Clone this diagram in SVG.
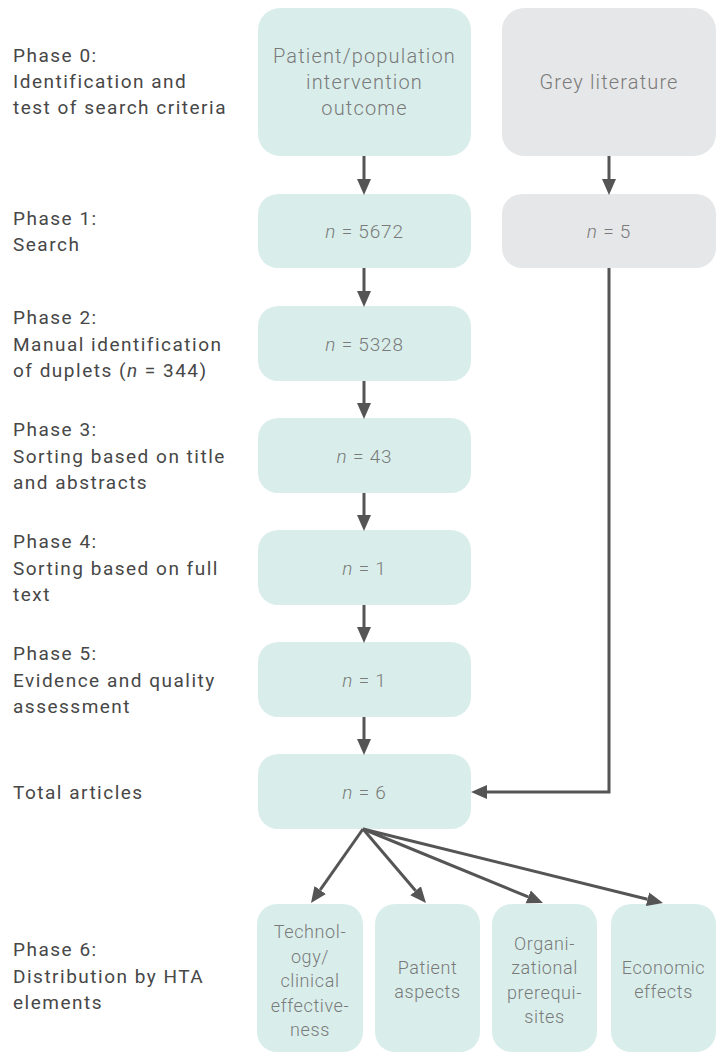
<svg xmlns="http://www.w3.org/2000/svg" width="723" height="1052" viewBox="0 0 723 1052">
<defs>
<style>
.lbl{font-family:Roboto,"Liberation Sans",sans-serif;font-size:19px;fill:#474747;letter-spacing:1.5px}
.bt{font-family:Roboto,"Liberation Sans",sans-serif;font-weight:300;font-size:18px;fill:#7a7a7a;text-anchor:middle;letter-spacing:0.6px}
.bt0{font-family:Roboto,"Liberation Sans",sans-serif;font-weight:300;font-size:20px;fill:#7a7a7a;text-anchor:middle;letter-spacing:1.15px}
.bn{font-family:Roboto,"Liberation Sans",sans-serif;font-weight:300;font-size:19px;fill:#7a7a7a;text-anchor:middle;letter-spacing:0.8px}
.teal{fill:#d9eeeb}
.grey{fill:#e6e7e8}
.con{stroke:#555;stroke-width:3;fill:none}
</style>
<marker id="ah" markerUnits="userSpaceOnUse" markerWidth="16" markerHeight="16" refX="0" refY="7" orient="auto" viewBox="0 0 16 14">
<path d="M0,0 L16,7 L0,14 z" fill="#555"/>
</marker>
</defs>
<g id="labels">
<text class="lbl" x="13" y="62">Phase 0:</text>
<text class="lbl" x="13" y="88">Identification and</text>
<text class="lbl" x="13" y="114">test of search criteria</text>
<text class="lbl" x="13" y="225">Phase 1:</text>
<text class="lbl" x="13" y="251">Search</text>
<text class="lbl" x="13" y="324">Phase 2:</text>
<text class="lbl" x="13" y="351">Manual identification</text>
<text class="lbl" x="13" y="377">of duplets (<tspan font-style="italic">n</tspan> = 344)</text>
<text class="lbl" x="13" y="436">Phase 3:</text>
<text class="lbl" x="13" y="463">Sorting based on title</text>
<text class="lbl" x="13" y="489">and abstracts</text>
<text class="lbl" x="13" y="548">Phase 4:</text>
<text class="lbl" x="13" y="575">Sorting based on full</text>
<text class="lbl" x="13" y="601">text</text>
<text class="lbl" x="13" y="660">Phase 5:</text>
<text class="lbl" x="13" y="687">Evidence and quality</text>
<text class="lbl" x="13" y="713">assessment</text>
<text class="lbl" x="13" y="799">Total articles</text>
<text class="lbl" x="13" y="956">Phase 6:</text>
<text class="lbl" x="13" y="983">Distribution by HTA</text>
<text class="lbl" x="13" y="1009">elements</text>
</g>
<g id="n0">
<rect class="teal" x="258" y="8" width="213" height="148" rx="22"/>
<text class="bt0" x="364.5" y="63">Patient/population</text>
<text class="bt0" x="364.5" y="89">intervention</text>
<text class="bt0" x="364.5" y="115">outcome</text>
</g>
<g id="g0">
<rect class="grey" x="502" y="8" width="214" height="148" rx="22"/>
<text class="bt0" x="609" y="89">Grey literature</text>
</g>
<g id="n1">
<rect class="teal" x="258" y="194" width="213" height="74" rx="20"/>
<text class="bn" x="364.5" y="238"><tspan font-style="italic">n</tspan> = 5672</text>
</g>
<g id="g1">
<rect class="grey" x="502" y="194" width="214" height="74" rx="20"/>
<text class="bn" x="609" y="238"><tspan font-style="italic">n</tspan> = 5</text>
</g>
<g id="n2">
<rect class="teal" x="258" y="306" width="213" height="75" rx="20"/>
<text class="bn" x="364.5" y="351"><tspan font-style="italic">n</tspan> = 5328</text>
</g>
<g id="n3">
<rect class="teal" x="258" y="418" width="213" height="75" rx="20"/>
<text class="bn" x="364.5" y="463"><tspan font-style="italic">n</tspan> = 43</text>
</g>
<g id="n4">
<rect class="teal" x="258" y="530" width="213" height="75" rx="20"/>
<text class="bn" x="364.5" y="575"><tspan font-style="italic">n</tspan> = 1</text>
</g>
<g id="n5">
<rect class="teal" x="258" y="642" width="213" height="75" rx="20"/>
<text class="bn" x="364.5" y="687"><tspan font-style="italic">n</tspan> = 1</text>
</g>
<g id="n6">
<rect class="teal" x="258" y="754" width="213" height="75" rx="20"/>
<text class="bn" x="364.5" y="799"><tspan font-style="italic">n</tspan> = 6</text>
</g>
<g id="e1">
<rect class="teal" x="257" y="904" width="106" height="148" rx="20"/>
<text class="bt" x="310" y="938">Technol-</text>
<text class="bt" x="310" y="963">ogy/</text>
<text class="bt" x="310" y="987">clinical</text>
<text class="bt" x="310" y="1012">effective-</text>
<text class="bt" x="310" y="1036">ness</text>
</g>
<g id="e2">
<rect class="teal" x="375" y="904" width="105" height="148" rx="20"/>
<text class="bt" x="427.5" y="974">Patient</text>
<text class="bt" x="427.5" y="998">aspects</text>
</g>
<g id="e3">
<rect class="teal" x="492" y="904" width="105" height="148" rx="20"/>
<text class="bt" x="544.5" y="950">Organi-</text>
<text class="bt" x="544.5" y="974">zational</text>
<text class="bt" x="544.5" y="999">prerequi-</text>
<text class="bt" x="544.5" y="1023">sites</text>
</g>
<g id="e4">
<rect class="teal" x="611" y="904" width="105" height="148" rx="20"/>
<text class="bt" x="663.5" y="974">Economic</text>
<text class="bt" x="663.5" y="998">effects</text>
</g>
<g id="connectors">
<path class="con" d="M364,156 V179" marker-end="url(#ah)"/>
<path class="con" d="M609,156 V179" marker-end="url(#ah)"/>
<path class="con" d="M364,268 V291" marker-end="url(#ah)"/>
<path class="con" d="M364,381 V403" marker-end="url(#ah)"/>
<path class="con" d="M364,493 V515" marker-end="url(#ah)"/>
<path class="con" d="M364,605 V627" marker-end="url(#ah)"/>
<path class="con" d="M364,717 V739" marker-end="url(#ah)"/>
<path class="con" d="M609,268 V792 H487" marker-end="url(#ah)"/>
<path class="con" d="M363,829 L320.2,889.9" marker-end="url(#ah)"/>
<path class="con" d="M363,829 L415.6,890.8" marker-end="url(#ah)"/>
<path class="con" d="M363,829 L528.2,896.9" marker-end="url(#ah)"/>
<path class="con" d="M363,829 L647.5,899.2" marker-end="url(#ah)"/>
</g>
</svg>
